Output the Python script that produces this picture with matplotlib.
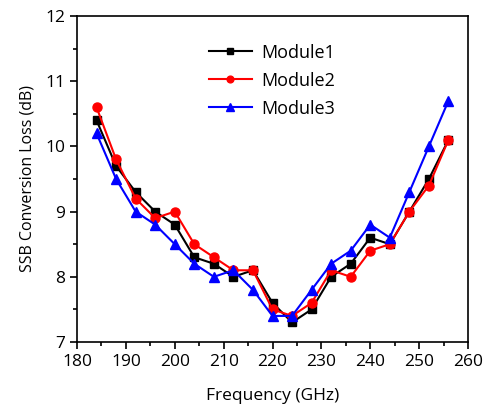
import matplotlib
matplotlib.use("Agg")
import matplotlib.pyplot as plt
from matplotlib.ticker import MultipleLocator

freq = [184, 188, 192, 196, 200, 204, 208, 212, 216, 220,
        224, 228, 232, 236, 240, 244, 248, 252, 256]
module1 = [10.4, 9.7, 9.3, 9.0, 8.8, 8.3, 8.2, 8.0, 8.1, 7.6,
           7.3, 7.5, 8.0, 8.2, 8.6, 8.5, 9.0, 9.5, 10.1]
module2 = [10.6, 9.8, 9.2, 8.9, 9.0, 8.5, 8.3, 8.1, 8.1, 7.5,
           7.4, 7.6, 8.1, 8.0, 8.4, 8.5, 9.0, 9.4, 10.1]
module3 = [10.2, 9.5, 9.0, 8.8, 8.5, 8.2, 8.0, 8.1, 7.8, 7.4,
           7.4, 7.8, 8.2, 8.4, 8.8, 8.6, 9.3, 10.0, 10.7]

plt.rcParams["font.family"] = ["Open Sans", "DejaVu Sans"]

fig = plt.figure(figsize=(4.92, 4.13), dpi=100)
ax = fig.add_axes([77 / 492, 1 - 342 / 413, (468 - 77) / 492, (342 - 16) / 413])

ax.plot(freq, module1, color="black", marker="s", ms=6, lw=1.5, label="Module1")
ax.plot(freq, module2, color="red", marker="o", ms=6.5, lw=1.5, label="Module2")
ax.plot(freq, module3, color="blue", marker="^", ms=7, lw=1.5, label="Module3")

ax.set_xlim(180, 260)
ax.set_ylim(7, 12)
ax.xaxis.set_major_locator(MultipleLocator(10))
ax.xaxis.set_minor_locator(MultipleLocator(5))
ax.yaxis.set_major_locator(MultipleLocator(1))
ax.yaxis.set_minor_locator(MultipleLocator(0.5))
ax.tick_params(which="both", direction="out", top=False, right=False, width=1.2, labelsize=12.5)
ax.tick_params(which="major", length=5)
ax.tick_params(which="minor", length=3)
for s in ax.spines.values():
    s.set_linewidth(1.2)

ax.set_xlabel("Frequency (GHz)", fontsize=12.5, labelpad=13)
ax.set_ylabel("SSB Conversion Loss (dB)", fontsize=11.5, labelpad=7)
ax.legend(loc="upper left", bbox_to_anchor=(0.295, 0.965), frameon=False,
          fontsize=13, handlelength=2.4, handletextpad=0.5, labelspacing=0.55,
          markerscale=0.75)

fig.savefig("out.png", dpi=100)
